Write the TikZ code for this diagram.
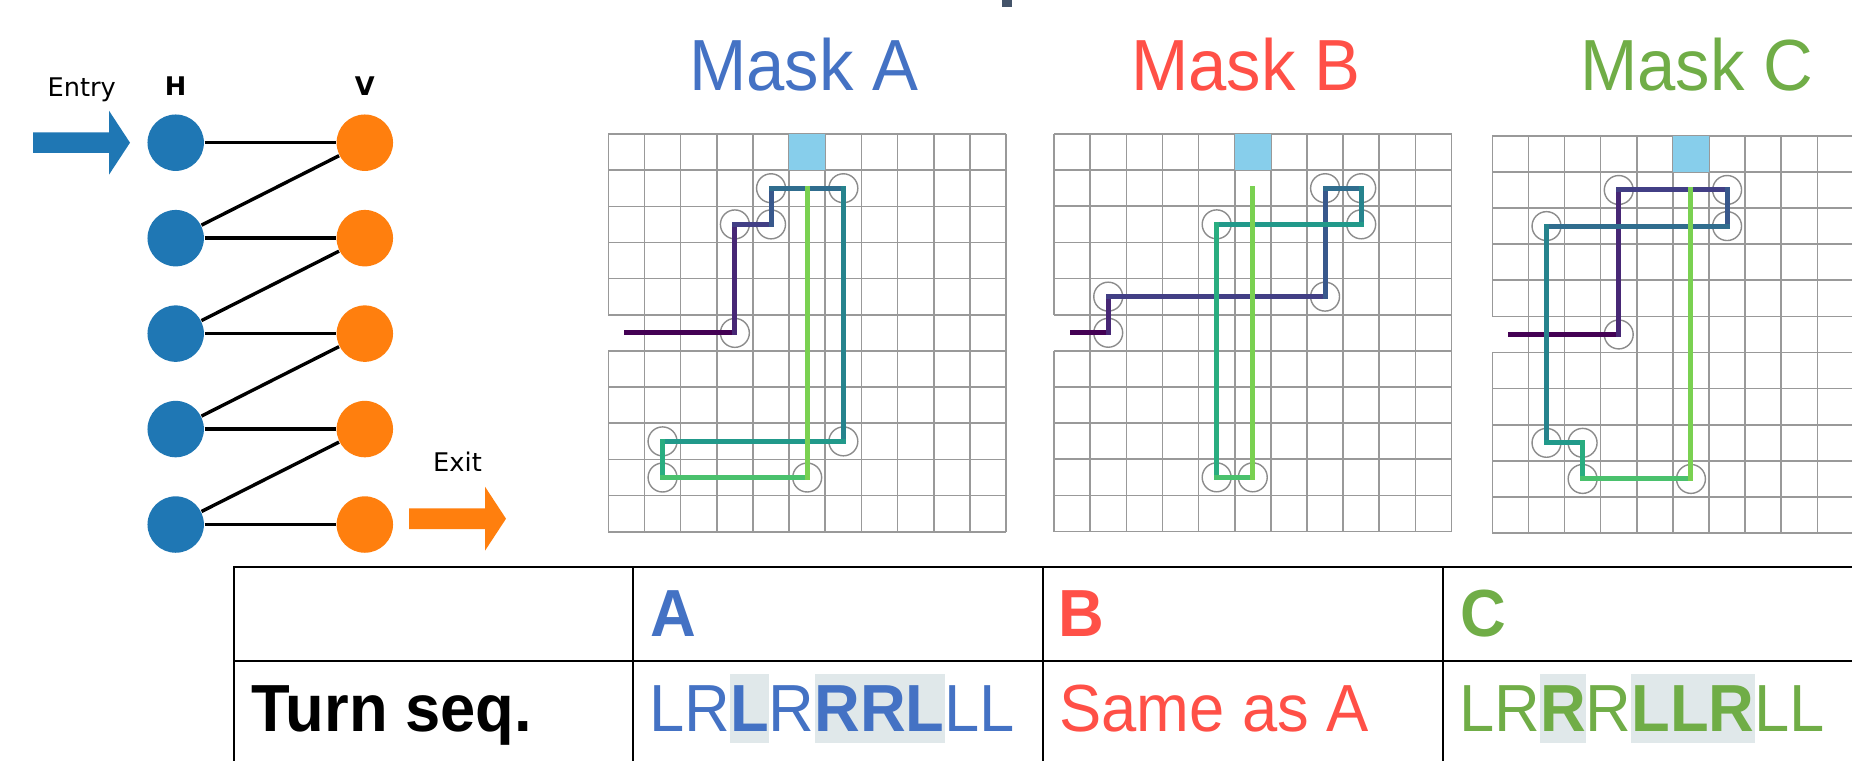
\documentclass[tikz,border=0pt]{standalone}
\usepackage{fontspec}
\usepackage{xcolor}
\usepackage{tikz}
\usetikzlibrary{arrows.meta, positioning}

\newfontfamily\plotfont{DejaVu Sans}
\newfontfamily\slidefont{Liberation Sans}[FakeStretch=0.95]

\definecolor{hblue}{HTML}{1F77B4}
\definecolor{vorange}{HTML}{FF7F0E}
\definecolor{maskA}{HTML}{4472C4}
\definecolor{maskB}{HTML}{FF5047}
\definecolor{maskC}{HTML}{70AD47}
\definecolor{gridgray}{HTML}{999999}
\definecolor{markgray}{HTML}{8C8C8C}
\definecolor{goalblue}{HTML}{87CEEB}
\definecolor{hlgray}{HTML}{E0E8EA}
\definecolor{titleslate}{HTML}{44546A}
\definecolor{vir0}{HTML}{440154}
\definecolor{vir1}{HTML}{472775}
\definecolor{vir2}{HTML}{423F85}
\definecolor{vir3}{HTML}{38588C}
\definecolor{vir4}{HTML}{306D8E}
\definecolor{vir5}{HTML}{26838D}
\definecolor{vir6}{HTML}{21998A}
\definecolor{vir7}{HTML}{29AD80}
\definecolor{vir8}{HTML}{4AC16D}
\definecolor{vir9}{HTML}{7AD151}

\setlength{\fboxsep}{0pt}
\newcommand{\turnhl}[1]{\colorbox{hlgray}{\rule[-0.116cm]{0pt}{0.693cm}\bfseries #1}}

\newcommand{\maskgrid}{%
  \foreach \k in {1,...,11} \draw[gridline] (\k,0) -- (\k,11);
  \foreach \k in {0,...,11} \draw[gridline] (0,\k) -- (11,\k);
  \draw[gridline] (0,0) -- (0,5) (0,6) -- (0,11);
  \fill[goalblue] (5,0) rectangle (6,1);
}
\newcommand{\turnpath}[2]{%
  \foreach \cx/\cy [count=\i from 0] in {#2}
    \coordinate (#1\i) at (\cx+0.5,\cy+0.5);
  \foreach \i in {1,...,9}
    \draw[turnmark] (#1\i) circle[radius=0.4];
  \foreach \i [count=\j from 0] in {1,...,10}
    \draw[pathseg, draw=vir\j] (#1\j) -- (#1\i);
}
% fat block arrow, tail at the given point
\newcommand{\blockarrow}[2]{%
  \fill[#1] (#2) ++(0,-10.3) -- ++(76,0) -- ++(0,-21.7) -- ++(21,32)
    -- ++(-21,32) -- ++(0,-21.7) -- ++(-76,0) -- cycle;
}

\begin{document}
\begin{tikzpicture}[
  x=0.01cm, y=-0.01cm,
  hnode/.style={circle, fill=hblue, minimum size=0.564cm, inner sep=0},
  vnode/.style={circle, fill=vorange, minimum size=0.564cm, inner sep=0},
  edge/.style={line width=0.034cm, black},
  plotlabel/.style={anchor=base, inner sep=0, font=\plotfont\fontsize{7.3pt}{9pt}\selectfont},
  gridline/.style={gridgray, line width=0.016cm},
  turnmark/.style={markgray, line width=0.014cm},
  pathseg/.style={line width=0.05cm, line cap=rect},
  masktitle/.style={anchor=base, inner sep=0, font=\slidefont\fontsize{20.6pt}{24pt}\selectfont},
  tabline/.style={black, line width=0.022cm},
  tabhead/.style={anchor=base west, inner sep=0, font=\slidefont\fontsize{18.95pt}{22pt}\selectfont\bfseries},
  tabcell/.style={anchor=base west, inner sep=0, font=\slidefont\fontsize{18.95pt}{22pt}\selectfont}
]
\useasboundingbox (0,0) rectangle (1852,761);
\fill[white] (0,0) rectangle (1852,761);
\clip (0,0) rectangle (1852,761);

\fill[titleslate] (1002,0) rectangle (1012,6.7);

\node[hnode] (h1) at (175.7,142.7) {};
\foreach \i [count=\j from 2] in {1,...,4}
  \node[hnode, below=0.376cm of h\i] (h\j) {};
\foreach \i in {1,...,5}
  \node[vnode, right=1.312cm of h\i] (v\i) {};
\node[plotlabel, above=0.178cm of h1, anchor=base] (hlabel) {\bfseries H};
\node[plotlabel, above=0.178cm of v1, anchor=base] (vlabel) {\bfseries V};
\node[plotlabel] (entrylabel) at (81.7,96.7) {Entry};
\node[plotlabel] (exitlabel) at (457.5,471.7) {Exit};

\foreach \i in {1,...,5}
  \draw[edge] (h\i) -- (v\i);
\foreach \i [count=\j from 2] in {1,...,4}
  \draw[edge] (h\j) -- (v\i);

\coordinate (entry) at (33,142.7);
\coordinate (exit) at (409,518.7);
\blockarrow{hblue}{entry}
\blockarrow{vorange}{exit}

\node[masktitle, text=maskA] (titleA) at (804,91) {Mask A};
\node[masktitle, text=maskB] (titleB) at (1246,91) {Mask B};
\node[masktitle, text=maskC] (titleC) at (1697,91) {Mask C};

\begin{scope}[shift={(608.3,134)}, x=0.3614cm, y=-0.3614cm]
  \maskgrid
  \turnpath{A}{0/5,3/5,3/2,4/2,4/1,6/1,6/8,1/8,1/9,5/9,5/1}
\end{scope}
\begin{scope}[shift={(1054,134)}, x=0.3612cm, y=-0.3612cm]
  \maskgrid
  \turnpath{B}{0/5,1/5,1/4,7/4,7/1,8/1,8/2,4/2,4/9,5/9,5/1}
\end{scope}
\begin{scope}[shift={(1492.3,135.8)}, x=0.3610cm, y=-0.3610cm]
  \maskgrid
  \turnpath{C}{0/5,3/5,3/1,6/1,6/2,1/2,1/8,2/8,2/9,5/9,5/1}
\end{scope}

\draw[tabline] (234,761) -- (234,566.7) -- (1852,566.7);
\draw[tabline] (234,660.7) -- (1852,660.7);
\foreach \x in {633.3,1042.7,1443.3}
  \draw[tabline] (\x,566.7) -- (\x,761);

\node[tabhead, text=maskA] (headA) at (650,636.7) {A};
\node[tabhead, text=maskB] (headB) at (1058,636.7) {B};
\node[tabhead, text=maskC] (headC) at (1459.5,636.7) {C};
\node[tabcell] (turnlabel) at (251,731.7) {\bfseries Turn seq.};
\node[tabcell, text=maskA] (seqA) at (648.5,731.7) {LR\turnhl{L}R\turnhl{RRL}LL};
\node[tabcell, text=maskB] (seqB) at (1058.7,731.7) {Same as A};
\node[tabcell, text=maskC] (seqC) at (1458.4,731.7) {LR\turnhl{R}R\turnhl{LLR}LL};
\end{tikzpicture}
\end{document}
